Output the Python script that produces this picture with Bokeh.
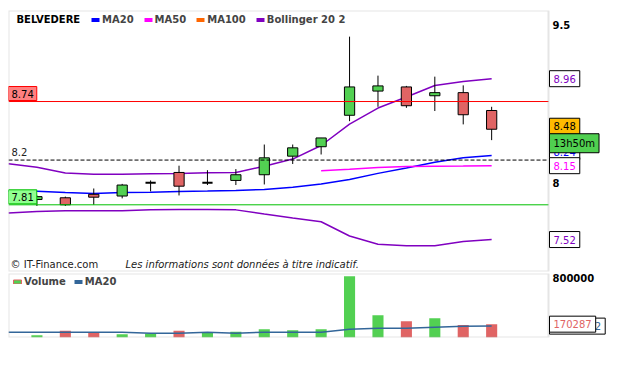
from bokeh.plotting import figure
from bokeh.models import Range1d, FixedTicker, Label, Legend, LegendItem, ColumnDataSource, BoxAnnotation
from bokeh.layouts import column
from bokeh.embed import file_html
from bokeh.resources import INLINE

# ---------------- data ----------------
candle_idx = list(range(17))
opens  = [7.855, 7.87, 7.90, 7.885, 8.00, 8.09, 8.00, 8.02, 8.07, 8.235, 8.32, 8.61, 8.84, 8.88, 8.795, 8.825, 8.655]
highs  = [7.89, 7.88, 7.95, 7.99, 8.02, 8.15, 8.11, 8.12, 8.34, 8.34, 8.40, 9.38, 8.99, 8.89, 8.98, 8.895, 8.69]
lows   = [7.80, 7.80, 7.81, 7.865, 7.925, 7.89, 7.98, 7.98, 7.985, 8.165, 8.25, 8.555, 8.69, 8.68, 8.65, 8.525, 8.38]
closes = [7.88, 7.81, 7.875, 7.98, 8.00, 7.97, 8.00, 8.07, 8.22, 8.31, 8.40, 8.88, 8.89, 8.70, 8.825, 8.615, 8.48]
volumes = [30000, 86000, 64000, 43000, 51000, 86000, 64000, 72000, 106000, 94000,
           106000, 783000, 285000, 209000, 247000, 158000, 170287]

line_idx = list(range(-1, 17))
ma20 = [7.927, 7.927, 7.915, 7.907, 7.915, 7.918, 7.924, 7.928, 7.933, 7.941,
        7.961, 7.989, 8.028, 8.082, 8.129, 8.180, 8.220, 8.24]
bb_upper = [8.167, 8.136, 8.085, 8.075, 8.075, 8.078, 8.081, 8.087, 8.090, 8.145,
            8.209, 8.331, 8.528, 8.678, 8.783, 8.894, 8.932, 8.96]
bb_lower = [7.7405, 7.753, 7.759, 7.759, 7.759, 7.767, 7.770, 7.770, 7.767, 7.732,
            7.698, 7.667, 7.549, 7.482, 7.469, 7.469, 7.504, 7.52]
ma50_idx = list(range(10, 17))
ma50 = [8.105, 8.119, 8.134, 8.143, 8.145, 8.147, 8.15]
vol_ma20 = [68000, 68000, 68000, 68000, 68000, 55000, 55000, 68000, 55000, 68000,
            68000, 68000, 106000, 119000, 119000, 132000, 145000, 145312.2]

ref_levels = [8.74, 8.2, 7.81]
ref_labels = ["8.74", "8.2", "7.81"]
time_label = "13h50m"
title = "BELVEDERE"
legend_names = ["MA20", "MA50", "MA100", "Bollinger 20 2"]
vol_legend_names = ["Volume", "MA20"]
price_ticks = [8, 9.5]
price_tick_labels = ["8", "9.5"]
vol_ticks = [800000]
vol_tick_labels = ["800000"]
footer_left = "\u00a9 IT-Finance.com"
footer_right = "Les informations sont donn\u00e9es \u00e0 titre indicatif."

# ---------------- styles ----------------
FONT = "DejaVu Sans"
GREEN = "#52d052"
RED = "#e06464"
PURPLE = "#8000c0"
BLUE = "#0000ff"
MAGENTA = "#ff00ff"
ORANGE = "#ff6600"
VOLBLUE = "#336699"
OUTLINE = "#a8a8a8"
legend_colors = [BLUE, MAGENTA, ORANGE, PURPLE]
ref_colors = ["#ff0000", "#000000", "#00c000"]
ref_dash = ["solid", "4 2", "solid"]
ref_fill = ["#ff8080", None, "#90ff90"]

X_START, X_AREA_END, X_END = -1, 18, 20.252   # plotting area ends at 18, labels live beyond
NAN = float("nan")


def base_fig(frame_h, top, bottom, y_range, **kw):
    f = figure(frame_width=604, frame_height=frame_h, min_border_left=8, min_border_right=0,
               min_border_top=top, min_border_bottom=bottom, x_range=shared_x,
               y_range=y_range, x_axis_location=None, output_backend="svg",
               toolbar_location=None, **kw)
    f.xgrid.visible = False
    f.ygrid.visible = False
    f.outline_line_color = None
    f.background_fill_color = "white"
    f.border_fill_color = "white"
    return f


def style_axis(ax, ticks, labels):
    ax.ticker = FixedTicker(ticks=ticks)
    ax.major_label_overrides = {t: l for t, l in zip(ticks, labels)}
    ax.axis_line_color = None
    ax.major_tick_line_color = None
    ax.minor_tick_line_color = None
    ax.major_tick_in = 0
    ax.major_tick_out = 0
    ax.major_label_standoff = -60
    ax.major_label_text_font = FONT
    ax.major_label_text_font_size = "10px"
    ax.major_label_text_font_style = "bold"
    ax.major_label_text_color = "black"


def add_box(fig, text, y, color, fill="white", border="black", y_offset=0, x=541, pad=4):
    fig.add_layout(Label(x=x, x_units="screen", y=y, y_units="data", text=text,
                         text_color=color, text_font=FONT, text_font_size="10px",
                         text_baseline="middle", text_align="left",
                         background_fill_color=fill, border_line_color=border,
                         padding=pad, y_offset=y_offset))


def area_border(fig):
    fig.add_layout(BoxAnnotation(left=X_START, right=X_AREA_END, fill_alpha=0,
                                 line_color=OUTLINE, line_width=2))


def legend_for(fig, names, colors, loc, spacing, line_colors=None):
    items = []
    for k, (name, col) in enumerate(zip(names, colors)):
        lc = line_colors[k] if line_colors else None
        r = fig.vbar(x=[NAN], top=[NAN], bottom=[NAN], width=1, fill_color=col, line_color=lc)
        items.append(LegendItem(label=name, renderers=[r]))
    leg = Legend(items=items, orientation="horizontal", location=loc,
                 glyph_width=10, glyph_height=5, label_standoff=2, spacing=spacing,
                 padding=0, margin=0, label_height=12,
                 label_text_font=FONT, label_text_font_size="10px", label_text_font_style="bold",
                 background_fill_alpha=0, border_line_alpha=0)
    fig.add_layout(leg)


shared_x = Range1d(X_START, X_END)

# ---------------- price panel ----------------
p = base_fig(261, 10, 1, Range1d(7.2627, 9.651), y_axis_type="log", y_axis_location="right")
style_axis(p.yaxis[0], price_ticks, price_tick_labels)

# bands and averages
p.line(line_idx, bb_upper, line_color=PURPLE, line_width=1.5)
p.line(line_idx, bb_lower, line_color=PURPLE, line_width=1.5)
p.line(line_idx, ma20, line_color=BLUE, line_width=1.5)
p.line(ma50_idx, ma50, line_color=MAGENTA, line_width=1.5)

# candles
p.segment(x0=candle_idx, y0=highs, x1=candle_idx, y1=lows, line_color="black", line_width=1)
body = dict(x=[], top=[], bottom=[], color=[])
doji = dict(x0=[], x1=[], y=[])
half = 0.18
for i, o, c in zip(candle_idx, opens, closes):
    if o == c:
        doji["x0"].append(i - half)
        doji["x1"].append(i + half)
        doji["y"].append(c)
    else:
        body["x"].append(i)
        body["top"].append(max(o, c))
        body["bottom"].append(min(o, c))
        body["color"].append(GREEN if c > o else RED)
p.vbar(x="x", top="top", bottom="bottom", width=2 * half, fill_color="color",
       line_color="black", line_width=1, source=ColumnDataSource(body))
p.segment(x0="x0", y0="y", x1="x1", y1="y", line_color="black", line_width=2,
          source=ColumnDataSource(doji))

# reference levels across the plotting area
for lv, col, dash in zip(ref_levels, ref_colors, ref_dash):
    p.segment(x0=[X_START], x1=[X_AREA_END], y0=[lv], y1=[lv], line_color=col,
              line_width=1, line_dash=dash)

area_border(p)

# legend
legend_for(p, legend_names, legend_colors, (82, 246), 9)
p.add_layout(Label(x=8, y=252.3, x_units="screen", y_units="screen", text=title,
                   text_font=FONT, text_font_size="10px", text_font_style="bold",
                   text_baseline="middle", text_color="black"))

# left level labels
for lv, lab, col, fill in zip(ref_levels, ref_labels, ref_colors, ref_fill):
    if fill is None:
        p.add_layout(Label(x=3, x_units="screen", y=lv, y_units="data", text=lab,
                           text_font=FONT, text_font_size="10px", text_color="#222222",
                           text_baseline="middle", y_offset=8))
    else:
        add_box(p, lab, lv, "black", fill=fill, border=col, y_offset=8, x=0, pad=3)

# right value labels
add_box(p, f"{bb_upper[-1]:.2f}", bb_upper[-1], PURPLE)
add_box(p, f"{ma20[-1]:.2f}", ma20[-1], BLUE, y_offset=4)
add_box(p, f"{closes[-1]:.2f}", closes[-1], "black", fill="#ffbb00", y_offset=3)
add_box(p, time_label, closes[-1], "black", fill="#50d050", y_offset=-14)
add_box(p, f"{ma50[-1]:.2f}", ma50[-1], MAGENTA)
add_box(p, f"{bb_lower[-1]:.2f}", bb_lower[-1], PURPLE)

# footer
p.add_layout(Label(x=2, y=7, x_units="screen", y_units="screen", text=footer_left,
                   text_font=FONT, text_font_size="10px", text_baseline="middle", text_color="#222222"))
p.add_layout(Label(x=117, y=7, x_units="screen", y_units="screen", text=footer_right,
                   text_font=FONT, text_font_size="10px", text_font_style="italic",
                   text_baseline="middle", text_color="#222222"))

# ---------------- volume panel ----------------
v = base_fig(64, 1, 1, Range1d(0, 817000), y_axis_location="right")
style_axis(v.yaxis[0], vol_ticks, vol_tick_labels)
vol_colors = [GREEN if c >= o else RED for o, c in zip(opens, closes)]
v.vbar(x=candle_idx, top=volumes, width=0.39, fill_color=vol_colors, line_color=None)
v.line(line_idx, vol_ma20, line_color=VOLBLUE, line_width=1.5)
area_border(v)
legend_for(v, vol_legend_names, [GREEN, VOLBLUE], (4, 50), 7, line_colors=[RED, None])
add_box(v, f"{vol_ma20[-1]:.1f}", vol_ma20[-1], VOLBLUE)
add_box(v, f"{volumes[-1]}", volumes[-1], RED)

# ---------------- third (cut) panel ----------------
t = base_fig(3, 1, 0, Range1d(0, 1), y_axis_location=None)
t.segment(x0=[X_START], x1=[X_AREA_END], y0=[1], y1=[1], line_color=OUTLINE, line_width=2)

layout = column(p, v, t, spacing=0)
open("out.html", "w").write(file_html(layout, INLINE))
